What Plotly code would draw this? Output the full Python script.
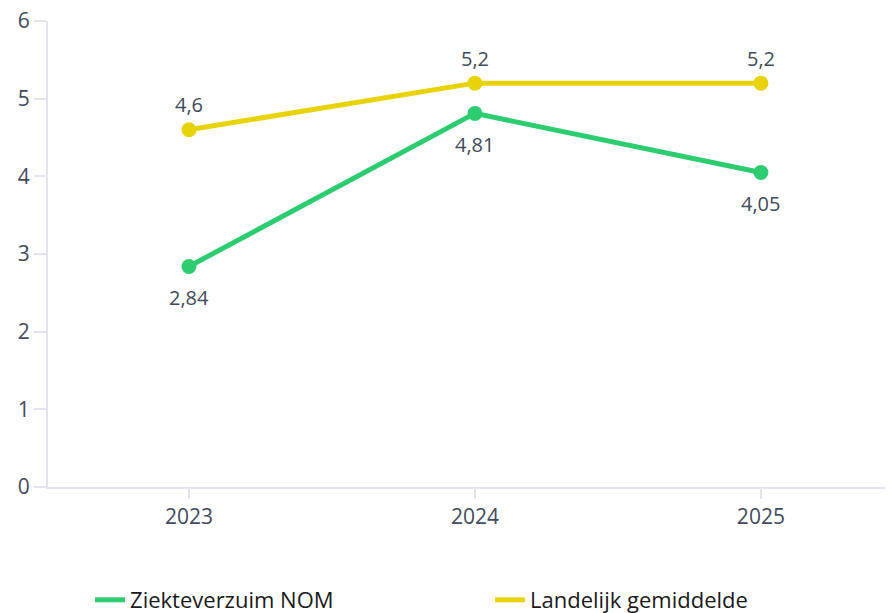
import plotly.graph_objects as go

years = ["2023", "2024", "2025"]
nom = [2.84, 4.81, 4.05]
landelijk = [4.6, 5.2, 5.2]
y_ticks = [0, 1, 2, 3, 4, 5, 6]

GREEN = "#2ecc71"
YELLOW = "#e8d30a"
TXT = "#414b5a"

def fmt(v):
    return ("%g" % v).replace(".", ",")

fig = go.Figure()
fig.add_trace(go.Scatter(
    x=years, y=nom, mode="lines+markers", name="Ziekteverzuim NOM", showlegend=False,
    line=dict(color=GREEN, width=5), marker=dict(size=15, color=GREEN),
))
fig.add_trace(go.Scatter(
    x=years, y=landelijk, mode="lines+markers", name="Landelijk gemiddelde", showlegend=False,
    line=dict(color=YELLOW, width=5), marker=dict(size=15, color=YELLOW),
))
# legend-only entries (line symbol only)
fig.add_trace(go.Scatter(x=[None], y=[None], mode="lines", name="Ziekteverzuim NOM",
                         line=dict(color=GREEN, width=5)))
fig.add_trace(go.Scatter(x=[None], y=[None], mode="lines", name="Landelijk gemiddelde",
                         line=dict(color=YELLOW, width=5)))

for i, v in enumerate(nom):
    fig.add_annotation(x=i, y=v, text=fmt(v), showarrow=False, yshift=-31,
                       font=dict(size=20, color=TXT, family="Open Sans"))
for i, v in enumerate(landelijk):
    fig.add_annotation(x=i, y=v, text=fmt(v), showarrow=False, yshift=25,
                       font=dict(size=20, color=TXT, family="Open Sans"))

fig.update_layout(
    width=885, height=613,
    margin=dict(l=40, r=0, t=13, b=134),
    plot_bgcolor="white", paper_bgcolor="white",
    font=dict(family="Open Sans", color=TXT),
    showlegend=True,
    legend=dict(orientation="h", xref="container", yref="container",
                x=0.0927, y=0.0, xanchor="left", yanchor="bottom",
                font=dict(size=22, color="#1a1a1a"), entrywidth=355,
                entrywidthmode="pixels"),
    xaxis=dict(type="category", range=[-0.493, 2.462], showgrid=False, automargin=False,
               showline=True, linecolor="#e3e3f0", linewidth=2,
               ticks="outside", ticklen=10, tickcolor="#e3e3f0", tickwidth=2,
               tickfont=dict(size=21, color=TXT), zeroline=False),
    yaxis=dict(range=[0, 6], tickvals=y_ticks, showgrid=False, automargin=False,
               showline=True, linecolor="#e3e3f0", linewidth=2,
               ticks="outside", ticklen=12, tickcolor="#e3e3f0", tickwidth=2,
               ticklabeloverflow="allow",
               tickfont=dict(size=21, color=TXT), zeroline=False),
)

fig.write_html("out.html")
